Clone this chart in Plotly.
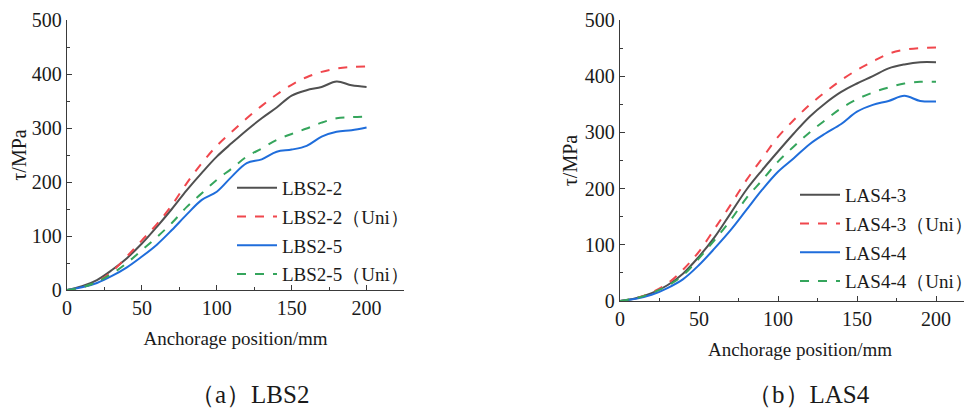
import plotly.graph_objects as go

# ---------- data ----------
x_pos = [0, 10, 20, 30, 40, 50, 60, 70, 80, 90, 100, 110, 120, 130, 140, 150, 160, 170, 180, 190, 200]

lbs2_2 = [0, 7, 18.5, 37, 59, 86, 117, 150, 185, 217, 247, 272, 296, 318, 338, 360, 370, 376, 386, 379, 376]
lbs2_2_uni = [0, 5, 15, 34, 62, 92, 122, 157, 198, 235, 267, 293, 318, 341, 362, 380, 394, 404, 410, 413, 414]
lbs2_5 = [0, 5, 13, 26, 42, 62, 84, 111, 140, 167, 182, 210, 235, 242, 256, 260, 267, 284, 293, 296, 301]
lbs2_5_uni = [0, 5, 15, 30, 50, 74, 98, 124, 154, 179, 204, 225, 247, 262, 278, 289, 299, 310, 318, 320, 321]

las4_3 = [0, 5, 14, 28, 49, 79, 114, 156, 198, 233, 266, 298, 328, 352, 372, 387, 400, 414, 421, 425, 425]
las4_3_uni = [0, 5, 15, 31, 56, 88, 129, 171, 215, 254, 292, 322, 349, 372, 393, 411, 426, 440, 447, 450, 451]
las4_4 = [0, 4, 11, 23, 39, 64, 94, 126, 162, 198, 230, 254, 279, 298, 315, 337, 349, 356, 365, 356, 355]
las4_4_uni = [0, 5, 14, 27, 46, 76, 109, 144, 183, 215, 248, 275, 300, 322, 343, 359, 371, 380, 387, 390, 390]

names_a = ["LBS2-2", "LBS2-2（Uni）", "LBS2-5", "LBS2-5（Uni）"]
names_b = ["LAS4-3", "LAS4-3（Uni）", "LAS4-4", "LAS4-4（Uni）"]
x_ticks = [0, 50, 100, 150, 200]
y_ticks = [0, 100, 200, 300, 400, 500]
captions = ["（a）LBS2", "（b）LAS4"]
x_title = "Anchorage position/mm"
y_title = "τ/MPa"

# ---------- style ----------
colors = ["#505050", "#f0474d", "#1f6ddb", "#35a55c"]
dashes = ["solid", "dash", "solid", "dash"]
SERIF = "Liberation Serif"
TXT = "#1a1a1a"
AX = "#3a3a3a"

fig = go.Figure()

series_a = [lbs2_2, lbs2_2_uni, lbs2_5, lbs2_5_uni]
series_b = [las4_3, las4_3_uni, las4_4, las4_4_uni]

for i, (nm, ys) in enumerate(zip(names_a, series_a)):
    fig.add_trace(go.Scatter(
        x=x_pos, y=ys, name=nm, mode="lines", xaxis="x", yaxis="y",
        line=dict(color=colors[i], width=2, dash=dashes[i], shape="spline", smoothing=1.0),
        legend="legend", legendgroup="a%d" % i))

for i, (nm, ys) in enumerate(zip(names_b, series_b)):
    fig.add_trace(go.Scatter(
        x=x_pos, y=ys, name=nm, mode="lines", xaxis="x2", yaxis="y2",
        line=dict(color=colors[i], width=2, dash=dashes[i], shape="spline", smoothing=1.0),
        legend="legend2", legendgroup="b%d" % i))

W, H = 972, 410
OFF = 8  # page body margin offset


def X(px):
    return (px - OFF) / W


def Y(py):
    return (H - (py - OFF)) / H


def xaxis_cfg(domain, rng, anchor):
    return dict(
        domain=domain, range=rng, tickvals=x_ticks, showgrid=False, zeroline=False,
        automargin=False, anchor=anchor,
        showline=True, linecolor=AX, linewidth=1.3, ticks="inside", ticklen=5,
        tickcolor=AX, tickwidth=1,
        minor=dict(ticks="inside", ticklen=3, tickcolor=AX, dtick=25, tick0=0),
        tickfont=dict(family=SERIF, size=20, color=TXT),
        title=dict(text=x_title, font=dict(family=SERIF, size=19, color=TXT), standoff=13),
    )


def yaxis_cfg(domain, anchor):
    return dict(
        domain=domain, range=[0, 500], tickvals=y_ticks, showgrid=False, zeroline=False,
        automargin=False, anchor=anchor,
        showline=True, linecolor=AX, linewidth=1.3, ticks="inside", ticklen=5,
        tickcolor=AX, tickwidth=1,
        minor=dict(ticks="inside", ticklen=3, tickcolor=AX, dtick=50, tick0=0),
        tickfont=dict(family=SERIF, size=20, color=TXT),
        title=dict(text=y_title, font=dict(family=SERIF, size=20, color=TXT), standoff=1),
    )


leg_common = dict(
    font=dict(family=SERIF, size=19, color=TXT), bgcolor="rgba(0,0,0,0)",
    borderwidth=0, tracegroupgap=1, itemwidth=40, xanchor="left", yanchor="top",
)

fig.update_layout(
    width=W, height=H, margin=dict(l=0, r=0, t=0, b=0, autoexpand=False),
    paper_bgcolor="white", plot_bgcolor="white",
    xaxis=xaxis_cfg([X(67), X(404)], [0, 225], "y"),
    yaxis=yaxis_cfg([Y(290), Y(20)], "x"),
    xaxis2=xaxis_cfg([X(620), 1.0], [0, (W + OFF - 620) / 1.58], "y2"),
    yaxis2=yaxis_cfg([Y(301), Y(20)], "x2"),
    legend=dict(x=X(232), y=Y(169), **leg_common),
    legend2=dict(x=X(795), y=Y(176), **leg_common),
    annotations=[
        dict(text=captions[0], x=X(249), y=Y(394), xref="paper", yref="paper",
             xanchor="center", yanchor="middle",
             showarrow=False, font=dict(family=SERIF, size=25, color=TXT)),
        dict(text=captions[1], x=X(808), y=Y(394), xref="paper", yref="paper",
             xanchor="center", yanchor="middle",
             showarrow=False, font=dict(family=SERIF, size=25, color=TXT)),
    ],
)

fig.write_html("out.html")
